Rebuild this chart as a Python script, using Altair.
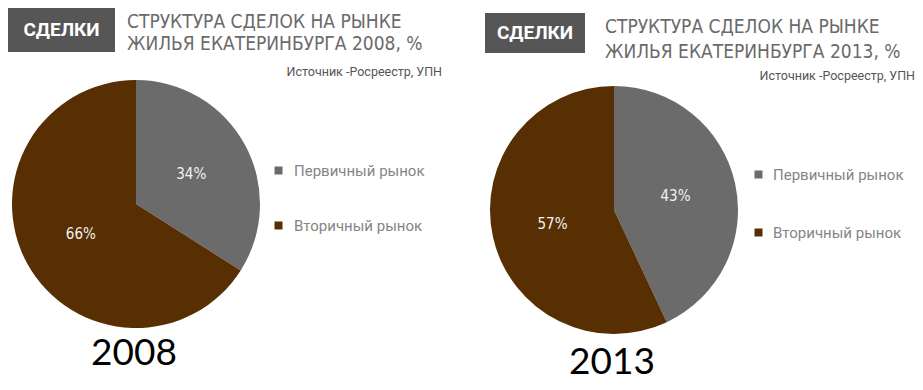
import altair as alt
import pandas as pd

# ---- data ----
categories = ["Первичный рынок", "Вторичный рынок"]
years = ["2008", "2013"]
shares_2008 = [34, 66]
shares_2013 = [43, 57]
badge_text = "СДЕЛКИ"
title_2008 = ["СТРУКТУРА СДЕЛОК НА РЫНКЕ", "ЖИЛЬЯ ЕКАТЕРИНБУРГА 2008, %"]
title_2013 = ["СТРУКТУРА СДЕЛОК НА РЫНКЕ", "ЖИЛЬЯ ЕКАТЕРИНБУРГА 2013, %"]
source_text = "Источник -Росреестр, УПН"

# ---- styles ----
slice_colors = ["#6b6b6b", "#582e03"]
box_color = "#565656"
title_color = "#6a6a6a"
narrow = "DejaVu Sans Condensed, Roboto, sans-serif"
one = pd.DataFrame({"k": [0]})


def txt(text, x, y, size, color, font, align="left", weight="normal", baseline="alphabetic"):
    return alt.Chart(one).mark_text(
        text=text, fontSize=size, color=color, font=font, align=align,
        fontWeight=weight, baseline=baseline
    ).encode(x=alt.value(x), y=alt.value(y))


def panel(year, shares, title_lines, L, W):
    df = pd.DataFrame({
        "category": categories,
        "value": shares,
        "order": list(range(len(categories))),
    })
    df["label"] = df["value"].astype(str) + "%"

    color = alt.Color(
        "category:N",
        scale=alt.Scale(domain=categories, range=slice_colors),
        legend=alt.Legend(
            orient="none", legendX=L["lx"], legendY=L["ly"], title=None,
            symbolType="square", symbolSize=64, symbolStrokeWidth=0,
            labelFont="Roboto", labelFontSize=15, labelColor="#858585",
            labelOffset=L["loff"], rowPadding=L["rowpad"], padding=0,
        ),
    )
    base = alt.Chart(df).encode(
        theta=alt.Theta("value:Q", stack=True),
        order=alt.Order("order:Q"),
        x=alt.value(L["cx"]),
        y=alt.value(L["cy"]),
    )
    pie = base.mark_arc(radius=124, stroke=None).encode(color=color)
    labels = base.mark_text(radius=63, fontSize=15, color="#f2f2f2",
                            font=narrow).encode(text="label:N")

    bx0, by0, bx1, by1 = L["box"]
    box = alt.Chart(one).mark_rect(color=box_color).encode(
        x=alt.value(bx0), x2=alt.value(bx1), y=alt.value(by0), y2=alt.value(by1)
    )
    badge = txt(badge_text, (bx0 + bx1) / 2, (by0 + by1) / 2, 19, "white",
                "Roboto", align="center", weight="bold", baseline="middle")
    t1 = txt(title_lines[0], L["tx"], L["ty1"], 19, title_color, narrow)
    t2 = txt(title_lines[1], L["tx"], L["ty2"], 19, title_color, narrow)
    src = txt(source_text, L["sx"], L["sy"], 12.5, "#555555", "Roboto", align="right")
    yr = txt(year, L["cx"] - 2, L["yy"], 37, "black", "Lato", align="center")

    return alt.layer(box, badge, t1, t2, src, pie, labels, yr).properties(
        width=W, height=374
    )


left = panel(years[0], shares_2008, title_2008, dict(
    box=(0, 0, 107, 44), tx=119, ty1=20, ty2=42, sx=434, sy=68,
    cx=128, cy=196, lx=263, ly=155, loff=8, rowpad=39, yy=357), 453)
right = panel(years[1], shares_2013, title_2013, dict(
    box=(24, 5, 124, 45), tx=144, ty1=25, ty2=50, sx=454, sy=72,
    cx=153, cy=202, lx=290, ly=159, loff=7, rowpad=42, yy=366), 454)

chart = alt.hconcat(left, right, spacing=0).resolve_scale(
    color="independent", theta="independent"
).resolve_legend(color="independent").properties(
    padding=0, background="white"
).configure_view(stroke=None)

chart.save("out.html", embed_options={"renderer": "svg", "actions": False})
